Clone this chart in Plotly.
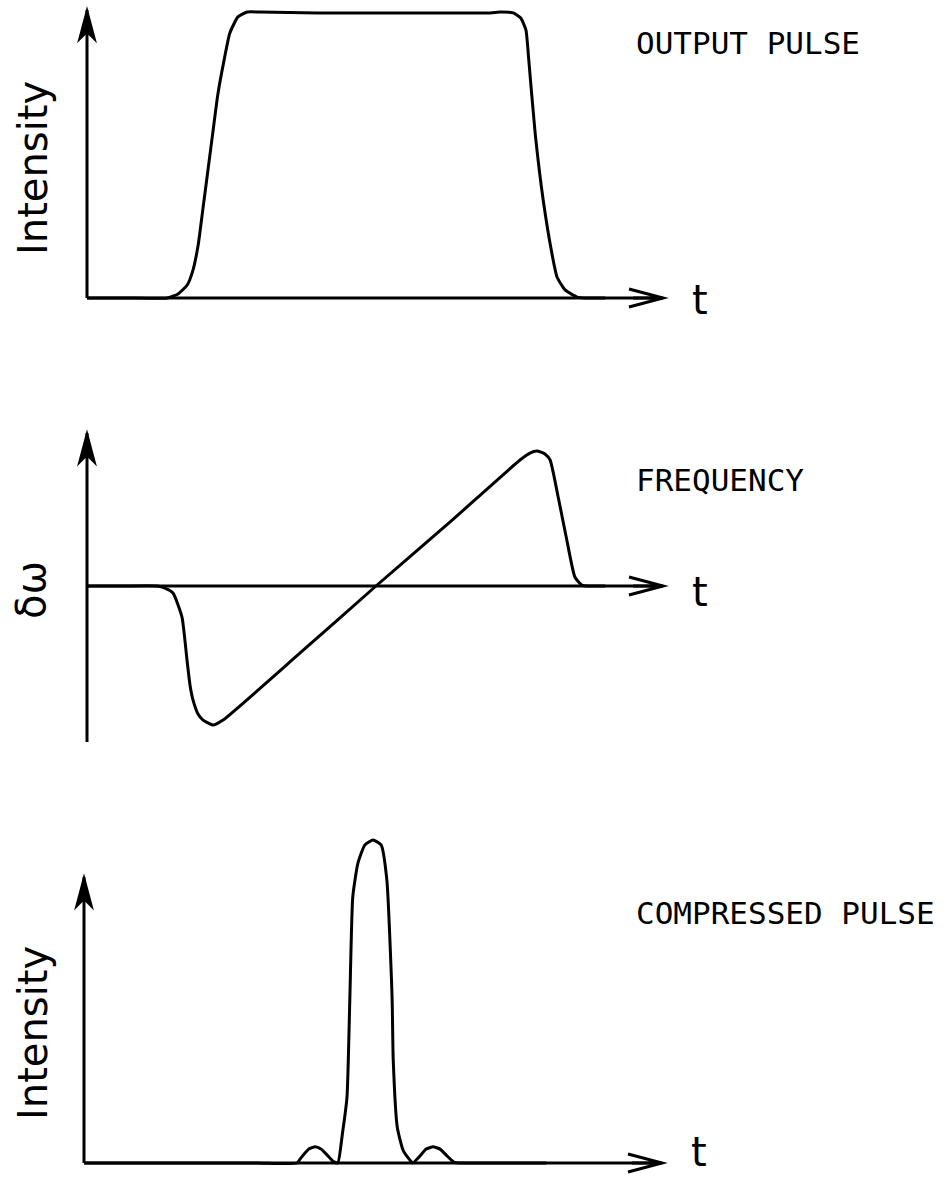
import plotly.graph_objects as go

# ---- Output pulse: intensity vs time (arbitrary units) ----
out_t = [0.0, 0.7, 1.39, 1.58, 1.74, 1.84, 1.93, 2.01, 2.10, 2.19, 2.27, 2.38,
         2.48, 2.62, 2.78, 3.0, 4.0, 5.0, 6.0, 7.0, 7.17, 7.40, 7.53, 7.62,
         7.67, 7.78, 7.92, 8.07, 8.16, 8.30, 8.51, 8.65, 9.0]
out_I = [0.0, 0.0, 0.0, 0.014, 0.045, 0.097, 0.184, 0.306, 0.444, 0.583, 0.705,
         0.826, 0.920, 0.976, 0.993, 0.993, 0.99, 0.99, 0.99, 0.99, 0.993,
         0.99, 0.972, 0.931, 0.826, 0.573, 0.340, 0.156, 0.073, 0.028, 0.003,
         0.0, 0.0]

# ---- Instantaneous frequency shift (chirp) vs time ----
freq_t = [0.0, 0.6, 1.215, 1.354, 1.493, 1.649, 1.736, 1.788, 1.840, 1.927,
          2.014, 2.188, 2.361, 3.7, 5.017, 6.3, 7.517, 7.69, 7.81, 7.95, 8.04,
          8.18, 8.33, 8.47, 8.59, 8.73, 9.0]
freq_dw = [0.0, 0.0, 0.0, -0.015, -0.052, -0.230, -0.548, -0.733, -0.844,
           -0.948, -0.993, -1.03, -0.993, -0.496, 0.0, 0.473, 0.933, 0.985,
           1.0, 0.978, 0.933, 0.659, 0.341, 0.067, 0.007, 0.0, 0.0]

# ---- Compressed pulse: intensity vs time ----
comp_t = [0.0, 1.0, 2.0, 3.0, 3.685, 3.75, 3.89, 4.00, 4.10, 4.22, 4.31, 4.39,
          4.47, 4.55, 4.60, 4.65, 4.74, 4.86, 5.00, 5.14, 5.24, 5.33, 5.35,
          5.42, 5.52, 5.64, 5.69, 5.80, 5.92, 6.04, 6.16, 6.28, 6.40, 6.50,
          7.0, 8.0]
comp_I = [0.0, 0.0, 0.0, 0.0, 0.0, 0.015, 0.043, 0.05, 0.043, 0.022, 0.005,
          0.0, 0.09, 0.204, 0.514, 0.824, 0.929, 0.985, 1.0, 0.985, 0.876,
          0.514, 0.319, 0.111, 0.04, 0.009, 0.0, 0.019, 0.043, 0.05, 0.043,
          0.022, 0.003, 0.0, 0.0, 0.0]

# Axis extents (tail, tip) in data units for each panel
out_axis = dict(t_tip=10.0, y_low=0.0, y_tip=1.0)
freq_axis = dict(t_tip=10.0, y_low=-1.156, y_tip=1.133)
comp_axis = dict(t_tip=10.0, y_low=0.0, y_tip=0.885)

W, H = 946, 1182
INK = "black"
LW = 3

# Page layout of each panel: origin pixel, pixels per unit, vertical band
panels = [
    dict(ox=87, oy=298, sx=57.6, sy=288, top=0, bottom=380),
    dict(ox=87, oy=586, sx=57.6, sy=135, top=395, bottom=795),
    dict(ox=84, oy=1163, sx=57.8, sy=323, top=800, bottom=1182),
]

layout = dict(
    width=W, height=H, margin=dict(l=0, r=0, t=0, b=0),
    paper_bgcolor="white", plot_bgcolor="white", showlegend=False,
)
for i, p in enumerate(panels, start=1):
    sfx = "" if i == 1 else str(i)
    layout["xaxis" + sfx] = dict(
        domain=[0, 1], range=[-p["ox"] / p["sx"], (W - p["ox"]) / p["sx"]],
        visible=False, fixedrange=True,
        anchor="y" + sfx,
    )
    layout["yaxis" + sfx] = dict(
        domain=[1 - p["bottom"] / H, 1 - p["top"] / H],
        range=[(p["oy"] - p["bottom"]) / p["sy"], (p["oy"] - p["top"]) / p["sy"]],
        visible=False, fixedrange=True,
        anchor="x" + sfx,
    )

fig = go.Figure(layout=layout)

curves = [(out_t, out_I), (freq_t, freq_dw), (comp_t, comp_I)]
for i, (tx, ty) in enumerate(curves, start=1):
    sfx = "" if i == 1 else str(i)
    fig.add_trace(go.Scatter(
        x=tx, y=ty, mode="lines", xaxis="x" + sfx, yaxis="y" + sfx,
        line=dict(color=INK, width=LW, shape="spline", smoothing=0.5),
        hoverinfo="skip",
    ))

shapes = []
for i, ax in enumerate([out_axis, freq_axis, comp_axis], start=1):
    sfx = "" if i == 1 else str(i)
    xr, yr = "x" + sfx, "y" + sfx
    # time axis
    shapes.append(dict(type="line", xref=xr, yref=yr, x0=0, y0=0,
                       x1=ax["t_tip"], y1=0, line=dict(color=INK, width=LW)))
    # vertical axis
    shapes.append(dict(type="line", xref=xr, yref=yr, x0=0, y0=ax["y_low"],
                       x1=0, y1=ax["y_tip"], line=dict(color=INK, width=LW)))
    # arrowheads (pixel sized, anchored at the axis tips)
    shapes.append(dict(type="path", xref=xr, yref=yr, xsizemode="pixel",
                       ysizemode="pixel", xanchor=ax["t_tip"], yanchor=0,
                       path="M -34,9 L 0,0 L -34,-9 M -30,0 L 0,0",
                       line=dict(color=INK, width=LW)))
    shapes.append(dict(type="path", xref=xr, yref=yr, xsizemode="pixel",
                       ysizemode="pixel", xanchor=0, yanchor=ax["y_tip"],
                       path="M -8,-30 L 0,0 L 8,-30 L 0,-22 Z",
                       fillcolor=INK, line=dict(color=INK, width=2)))
fig.update_layout(shapes=shapes)


def px(x, y):
    return x / W, 1 - y / H


annotations = []
title_font = dict(family="DejaVu Sans Mono", size=31, color=INK)
for text, (x, y) in [("OUTPUT PULSE", (634, 43)),
                     ("FREQUENCY", (634, 480)),
                     ("COMPRESSED PULSE", (634, 913))]:
    fx, fy = px(x, y)
    annotations.append(dict(text=text, x=fx, y=fy, xref="paper", yref="paper",
                            xanchor="left", yanchor="middle", showarrow=False,
                            font=title_font))

for text, (x, y) in [("t", (700, 300)), ("t", (700, 592)), ("t", (699, 1152))]:
    fx, fy = px(x, y)
    annotations.append(dict(text=text, x=fx, y=fy, xref="paper", yref="paper",
                            xanchor="center", yanchor="middle", showarrow=False,
                            font=dict(family="DejaVu Sans", size=40, color=INK)))

for text, (x, y), size in [("Intensity", (33, 168), 40),
                           ("δω", (31, 590), 40),
                           ("Intensity", (33, 1033), 40)]:
    fx, fy = px(x, y)
    annotations.append(dict(text=text, x=fx, y=fy, xref="paper", yref="paper",
                            xanchor="center", yanchor="middle", showarrow=False,
                            textangle=-90,
                            font=dict(family="DejaVu Sans", size=size, color=INK)))

fig.update_layout(annotations=annotations)
fig.write_html("out.html")
